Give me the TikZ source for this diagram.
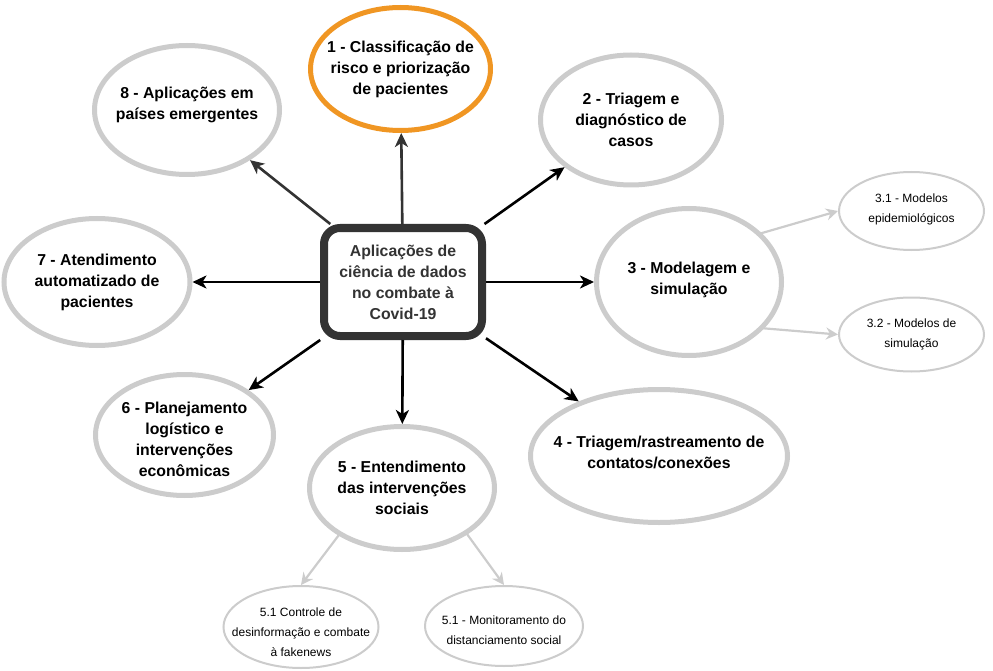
\documentclass[tikz,border=0pt]{standalone}
\usepackage{fontspec}
\setmainfont{Liberation Sans}
\usetikzlibrary{shapes.geometric,arrows.meta,shadows}
\definecolor{gr}{HTML}{CCCCCC}
\definecolor{org}{RGB}{240,150,35}
\definecolor{dk}{HTML}{333333}
\begin{document}
\begin{tikzpicture}[x=1pt,y=-1pt,
  ell/.style={ellipse, draw=gr, line width=5pt, fill=white, inner sep=0pt},
  sub/.style={ellipse, draw=gr, line width=2pt, fill=white, inner sep=0pt},
  lab/.style={align=center, inner sep=0pt, font=\bfseries\fontsize{15.8}{21}\selectfont},
  slab/.style={align=center, inner sep=0pt, font=\fontsize{12}{20}\selectfont},
  arr/.style={line width=2.6pt, -{Stealth[length=14pt,width=13pt,inset=4pt]}},
  garr/.style={draw=gr, line width=2.2pt, -{Stealth[length=12pt,width=12pt,inset=4pt]}},
  hub/.style={rectangle, rounded corners=16pt, draw=dk, line width=8pt, fill=white,
    minimum width=158pt, minimum height=108pt, inner sep=0pt, align=center, text=dk,
    font=\bfseries\fontsize{15.8}{21}\selectfont,
    drop shadow={shadow xshift=3pt, shadow yshift=-3pt, fill=black!30}}
]
\useasboundingbox (0,0) rectangle (993,671);

% sub nodes
\node[sub, minimum width=145, minimum height=78,
  label={[slab, yshift=2pt]center:{3.1 - Modelos\\epidemiológicos}}] (n31) at (911.5,211) {};
\node[sub, minimum width=145, minimum height=74,
  label={[slab]center:{3.2 - Modelos de\\simulação}}] (n32) at (911.5,334.5) {};
\node[sub, minimum width=155, minimum height=82,
  label={[slab, yshift=-5pt]center:{5.1 Controle de\\desinformação e combate\\à fakenews}}] (n51a) at (301,627) {};
\node[sub, minimum width=158, minimum height=80,
  label={[slab, yshift=-4pt]center:{5.1 - Monitoramento do\\distanciamento social}}] (n51b) at (504,626) {};

% gray connectors (start hidden under the parent ellipses)
\coordinate (o31) at (700,251);
\coordinate (o32) at (700,323);
\coordinate (o51a) at (373,490);
\coordinate (o51b) at (435,490);
\draw[garr] (o31) -- (n31.west);
\draw[garr] (o32) -- (n32.west);
\draw[garr] (o51a) -- (n51a.north);
\draw[garr] (o51b) -- (n51b.north);

% main ellipses
\node[ell, draw=org, minimum width=180, minimum height=123,
  label={[lab]center:{1 - Classificação de\\risco e priorização\\de pacientes}}] (n1) at (400.5,69) {};
\node[ell, minimum width=181, minimum height=130,
  label={[lab]center:{2 - Triagem e\\diagnóstico de\\casos}}] (n2) at (631,120) {};
\node[ell, minimum width=185, minimum height=147,
  label={[lab, yshift=2pt]center:{3 - Modelagem e\\simulação}}] (n3) at (689,282) {};
\node[ell, minimum width=257, minimum height=133,
  label={[lab, yshift=4pt]center:{4 - Triagem/rastreamento de\\contatos/conexões}}] (n4) at (659,456) {};
\node[ell, minimum width=185, minimum height=123,
  label={[lab]center:{5 - Entendimento\\das intervenções\\sociais}}] (n5) at (402,488) {};
\node[ell, minimum width=178, minimum height=121,
  label={[lab, yshift=-4pt]center:{6 - Planejamento\\logístico e\\intervenções\\econômicas}}] (n6) at (184.5,435) {};
\node[ell, minimum width=186, minimum height=127,
  label={[lab]center:{7 - Atendimento\\automatizado de\\pacientes}}] (n7) at (97,282) {};
\node[ell, minimum width=185, minimum height=129,
  label={[lab, yshift=5pt]center:{8 - Aplicações em\\países emergentes}}] (n8) at (187,110) {};

% hub
\node[hub] (c) at (403,282) {Aplicações de\\ciência de dados\\no combate à\\Covid-19};

% black connectors
\draw[arr, draw=dk, fill=dk] (c) -- (n1);
\draw[arr] (c) -- (n2);
\draw[arr] (c) -- (n3);
\draw[arr] (c) -- (n4);
\draw[arr] (c) -- (n5);
\draw[arr] (c) -- (n6);
\draw[arr] (c) -- (n7);
\draw[arr, draw=dk, fill=dk] (c) -- (n8);
\end{tikzpicture}
\end{document}
